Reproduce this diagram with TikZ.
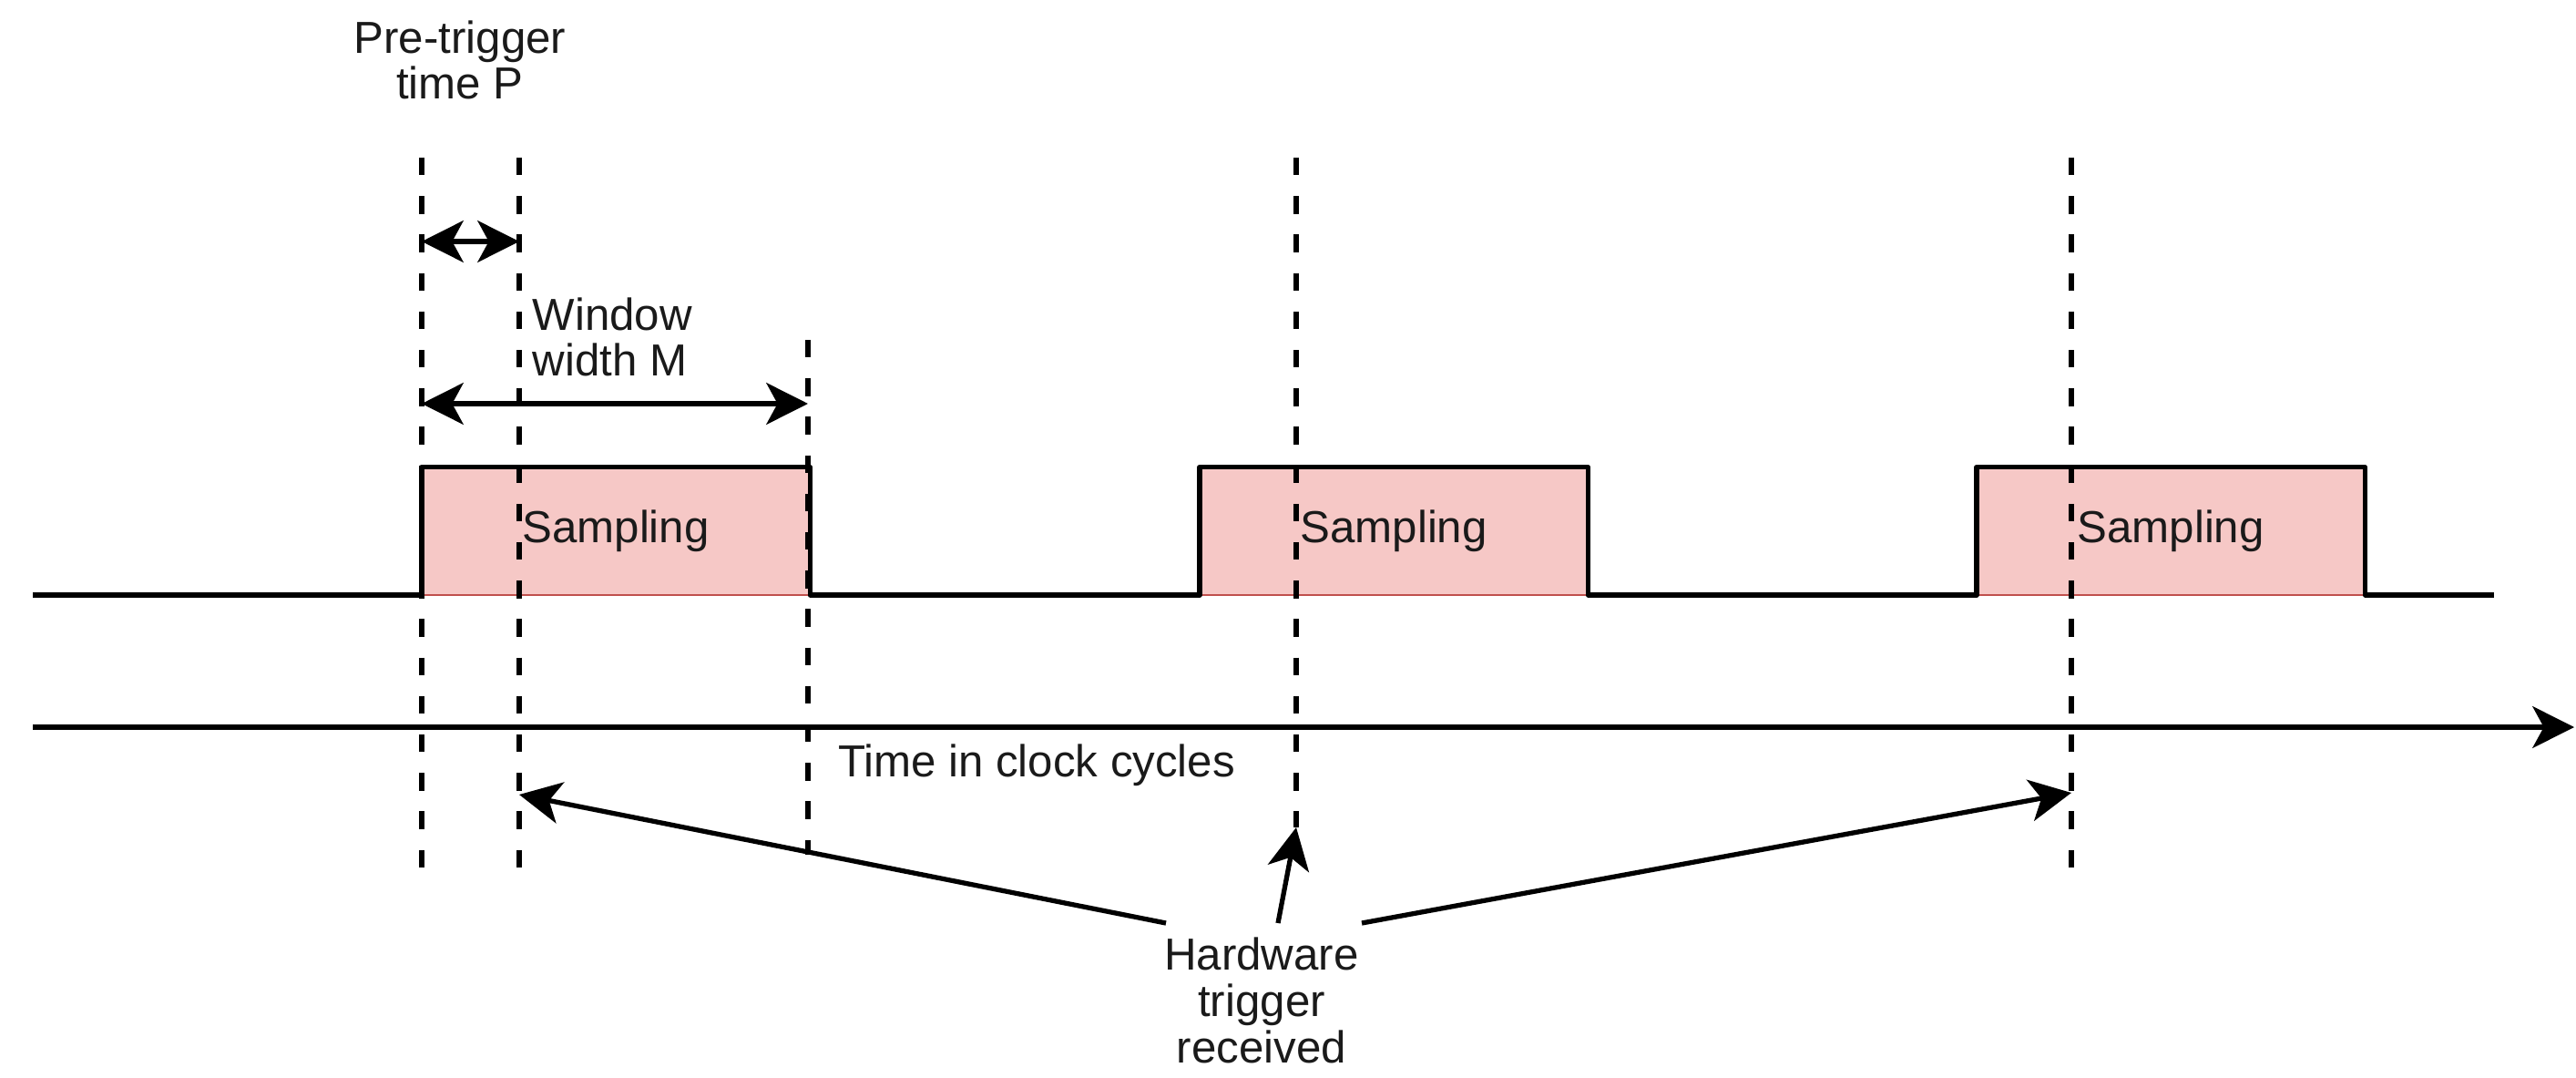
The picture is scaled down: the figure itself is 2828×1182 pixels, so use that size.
\documentclass[tikz,border=0pt]{standalone}
\usepackage{fontspec}
\setmainfont{Liberation Sans}
\usetikzlibrary{arrows.meta}
\definecolor{sampfill}{HTML}{F6C8C6}
\definecolor{sampedge}{HTML}{C0504D}
\definecolor{txtcol}{HTML}{1A1A1A}
\begin{document}
\begin{tikzpicture}[x=0.01cm,y=-0.01cm,
  txt/.style={font=\fontsize{14}{14.4}\selectfont, text=txtcol, inner sep=0pt, align=center},
  guide/.style={line width=1.6pt, dash pattern=on 5.5pt off 6.5pt},
  wave/.style={line width=1.5pt, line join=round},
  arr/.style={line width=1.5pt, -{Stealth[length=13pt,width=13pt,inset=3.5pt]}},
  darr/.style={line width=1.5pt, {Stealth[length=13pt,width=13pt,inset=3.5pt]}-{Stealth[length=13pt,width=13pt,inset=3.5pt]}},
  sampbox/.style={fill=sampfill, draw=none, minimum width=4.245cm, minimum height=1.39cm, anchor=south west, inner sep=0pt, font=\fontsize{14}{14.4}\selectfont, text=txtcol}]
\useasboundingbox (0,0) rectangle (2828,1182);

% sampling boxes
\node[sampbox] (b1) at (463,653) {\raisebox{-0.09cm}{Sampling}};
\node[sampbox] (b2) at (1317,653) {\raisebox{-0.09cm}{Sampling}};
\node[sampbox] (b3) at (2170,653) {\raisebox{-0.09cm}{Sampling}};
\foreach \b in {b1,b2,b3}{
  \draw[sampedge, line width=0.6pt] (\b.south west) -- (\b.south east);
}

% square wave
\coordinate (w0) at (36,653);
\coordinate (w1) at (2738,653);
\draw[wave] (w0) -- (b1.south west) -- (b1.north west) -- (b1.north east) -- (b1.south east)
  -- (b2.south west) -- (b2.north west) -- (b2.north east) -- (b2.south east)
  -- (b3.south west) -- (b3.north west) -- (b3.north east) -- (b3.south east) -- (w1);

% time axis
\coordinate (a0) at (36,798);
\coordinate (a1) at (2826,798);
\draw[line width=1.5pt, -{Stealth[length=13pt,width=13pt,inset=3.5pt]}] (a0) -- (a1);
\node[txt] (time) at (1138,840) {Time in clock cycles};

% guide lines
\coordinate (g1t) at (463,173);  \coordinate (g1b) at (463,956);
\coordinate (g2t) at (570,173);  \coordinate (g2b) at (570,956);
\coordinate (g3t) at (887,373);  \coordinate (g3b) at (887,938);
\coordinate (g4t) at (1423,173); \coordinate (g4b) at (1423,908);
\coordinate (g5t) at (2274,173); \coordinate (g5b) at (2274,957);
\foreach \g in {g1,g2,g3,g4,g5}{
  \draw[guide] (\g t) -- (\g b);
}

% dimension arrows
\coordinate (p0) at (463,265); \coordinate (p1) at (570,265);
\draw[darr] (p0) -- (p1);
\coordinate (m0) at (463,443); \coordinate (m1) at (887,443);
\draw[darr] (m0) -- (m1);

\node[txt] (pre) at (505,66) {Pre-trigger\\time P};
\node[txt, align=left, anchor=west] (win) at (584,370) {Window\\width M};

% hardware trigger
\node[txt] (hw) at (1385,1098) {Hardware\\trigger\\received};
\coordinate (h1s) at (1280,1013); \coordinate (h1e) at (570,872);
\coordinate (h2s) at (1403,1013); \coordinate (h2e) at (1423,908);
\coordinate (h3s) at (1495,1013); \coordinate (h3e) at (2274,870);
\draw[arr] (h1s) -- (h1e);
\draw[arr] (h2s) -- (h2e);
\draw[arr] (h3s) -- (h3e);
\end{tikzpicture}
\end{document}
